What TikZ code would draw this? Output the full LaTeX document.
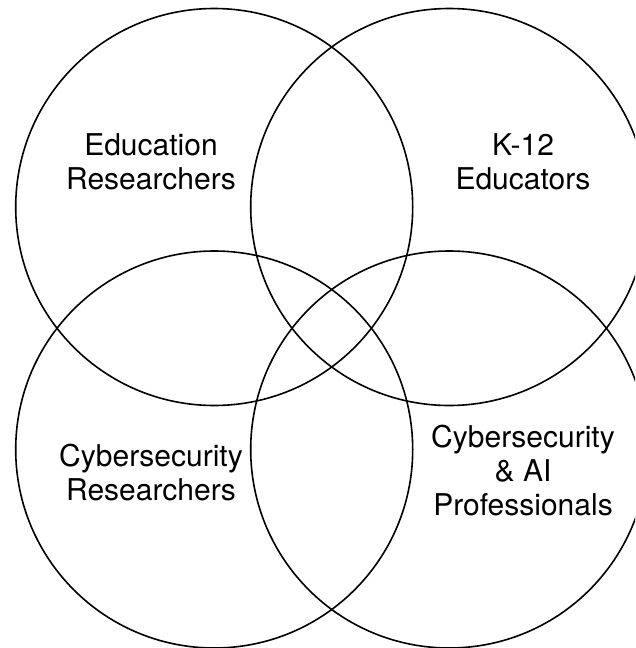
\documentclass[tikz,border=0pt]{standalone}
\usepackage{fontspec}
\setsansfont{TeX Gyre Heros}

\tikzset{
  venn/.style={draw, circle, line width=1.6pt, minimum size=397pt, inner sep=0pt},
  group/.style={align=center, inner sep=0pt, font=\sffamily\fontsize{30}{34}\selectfont}
}

\begin{document}
\begin{tikzpicture}[x=1pt,y=-1pt]
\useasboundingbox (0,0) rectangle (635,648);
\clip (0,0) rectangle (635,648);
% the four circles
\node[venn] (edu) at (214.2,207) {};
\node[venn] (k12) at (449.2,207) {};
\node[venn] (cyr) at (214.2,449.5) {};
\node[venn] (pro) at (449.2,449.5) {};
% labels
\node[group] (edulab) at (151,162) {Education\\Researchers};
\node[group] (k12lab) at (523,162) {K-12\\Educators};
\node[group] (cyrlab) at (151,473) {Cybersecurity\\Researchers};
\node[group] (prolab) at (523,471) {Cybersecurity\\\& AI\\Professionals};
\end{tikzpicture}
\end{document}
